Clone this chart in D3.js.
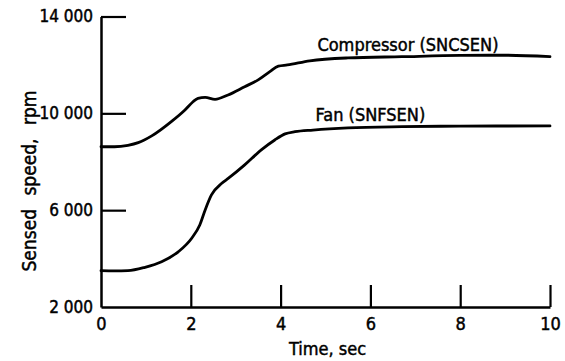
<!DOCTYPE html>
<html>
<head>
<meta charset="utf-8">
<script src="https://cdn.jsdelivr.net/npm/d3@7"></script>
<style>
  html, body { margin: 0; padding: 0; background: #fff; }
  svg { display: block; }
  text { font-family: "DejaVu Sans Condensed", "DejaVu Sans", sans-serif; fill: #000; stroke: #000; stroke-width: 0.45px; }
</style>
</head>
<body>
<div id="chart"></div>
<script>
// ---- data ----
const compressorTime = [0, 0.3, 0.6, 0.83, 1.13, 1.58, 1.87, 2.05, 2.16, 2.32, 2.54, 2.83, 3.2, 3.5, 3.76, 3.95, 4.15, 4.65, 5.5, 6.7, 8.0, 9.0, 10];
const compressorSpeed = [8620, 8620, 8680, 8790, 9070, 9680, 10140, 10480, 10620, 10660, 10580, 10760, 11100, 11380, 11720, 11950, 12000, 12170, 12290, 12340, 12390, 12400, 12340];
const fanTime = [0, 0.3, 0.6, 0.98, 1.35, 1.72, 2.02, 2.2, 2.32, 2.46, 2.69, 2.84, 3.2, 3.57, 3.87, 4.1, 4.32, 4.72, 5.5, 6.7, 8.0, 10];
const fanSpeed = [3500, 3490, 3500, 3640, 3870, 4280, 4840, 5390, 6010, 6630, 7110, 7320, 7870, 8490, 8900, 9150, 9240, 9310, 9400, 9450, 9470, 9480];
const xTicks = [0, 2, 4, 6, 8, 10];
const xTickLabels = ["0", "2", "4", "6", "8", "10"];
const yTicks = [2000, 6000, 10000, 14000];
const yTickLabels = ["2 000", "6 000", "10 000", "14 000"];
const seriesLabels = ["Compressor (SNCSEN)", "Fan (SNFSEN)"];
const xTitle = "Time, sec";
const yTitle = "Sensed speed, rpm";

// ---- layout ----
const W = 565, H = 361;
const svg = d3.select("#chart").append("svg").attr("width", W).attr("height", H);

const x = d3.scaleLinear().domain([0, 10]).range([101, 550]);
const y = d3.scaleLinear().domain([2000, 14000]).range([307, 16.5]);

// x axis
const xAxis = d3.axisBottom(x)
  .tickValues(xTicks)
  .tickFormat((d, i) => xTickLabels[i])
  .tickSizeInner(-22).tickSizeOuter(0).tickPadding(10);
const gx = svg.append("g").attr("transform", `translate(0,${y(2000)})`).call(xAxis);
gx.select(".domain").attr("stroke", "#000").attr("stroke-width", 2.5);
gx.selectAll(".tick line").attr("stroke", "#000").attr("stroke-width", 2.2);
gx.selectAll(".tick").filter(d => d === 0).select("line").remove();
gx.selectAll(".tick text").style("font-size", "18px").attr("fill", "#000")
  .style("font-family", "'DejaVu Sans Condensed', sans-serif");

// y axis
const yAxis = d3.axisLeft(y)
  .tickValues(yTicks)
  .tickFormat((d, i) => yTickLabels[i])
  .tickSizeInner(-25).tickSizeOuter(0).tickPadding(8);
const gy = svg.append("g").attr("transform", `translate(${x(0)},0)`).call(yAxis);
gy.select(".domain").attr("stroke", "#000").attr("stroke-width", 2.5);
gy.selectAll(".tick line").attr("stroke", "#000").attr("stroke-width", 2.2);
gy.selectAll(".tick").filter(d => d === 2000).select("line").remove();
gy.selectAll(".tick text").style("font-size", "17px").attr("fill", "#000")
  .style("font-family", "'DejaVu Sans Condensed', sans-serif");

// lines
const lineGen = d3.line().x(d => x(d[0])).y(d => y(d[1])).curve(d3.curveMonotoneX);
const compData = compressorTime.map((t, i) => [t, compressorSpeed[i]]);
const fanData = fanTime.map((t, i) => [t, fanSpeed[i]]);
[compData, fanData].forEach(data => {
  svg.append("path").datum(data).attr("d", lineGen)
    .attr("fill", "none").attr("stroke", "#000").attr("stroke-width", 2.8)
    .attr("stroke-linecap", "round").attr("stroke-linejoin", "round");
});

// series labels
svg.append("text").attr("x", x(4.82)).attr("y", y(12560))
  .attr("font-size", 18).text(seriesLabels[0]);
svg.append("text").attr("x", x(4.78)).attr("y", y(9700))
  .attr("font-size", 18).text(seriesLabels[1]);

// axis titles
svg.append("text").attr("x", (x(0) + x(10)) / 2 + 2).attr("y", 355)
  .attr("text-anchor", "middle").attr("font-size", 18).text(xTitle);
svg.append("text").attr("transform", "translate(36,181) rotate(-90)")
  .attr("text-anchor", "middle").attr("font-size", 19)
  .style("word-spacing", "8px")
  .text(yTitle);
</script>
</body>
</html>
